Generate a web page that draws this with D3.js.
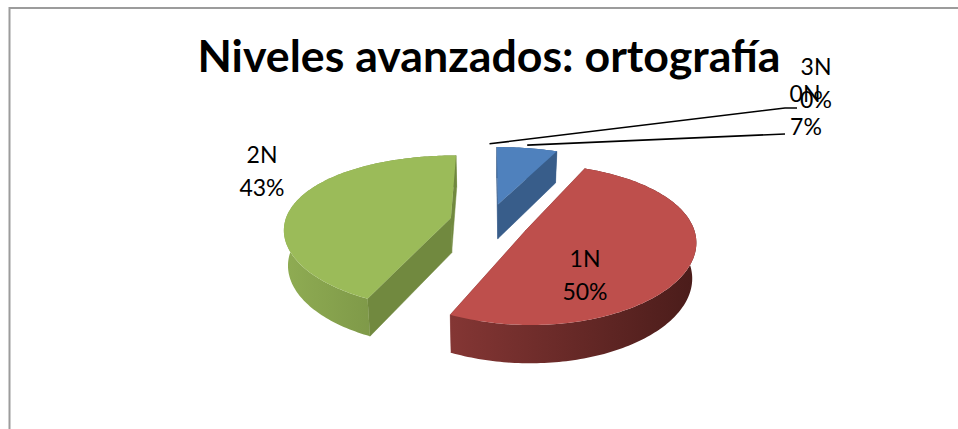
<!DOCTYPE html>
<html><head><meta charset="utf-8">
<script src="https://cdnjs.cloudflare.com/ajax/libs/d3/7.8.5/d3.min.js"></script>
<style>html,body{margin:0;padding:0;background:#fff;overflow:hidden}svg{display:block}text{font-family:Lato,"Open Sans",sans-serif;fill:#000}</style>
</head><body>
<svg id="c" width="958" height="429"></svg>
<script>
const title = "Niveles avanzados: ortografía";
const categories = ["0N", "1N", "2N", "3N"];
const values = [7, 50, 43, 0];
const topColors = ["#4F81BD", "#BE4F4C", "#9BBB59", "#7D60A0"];
const sideColors = ["#385D8A", "#8A3836", "#71893F", "#5A4575"];
const wallStops = [["#385D8A", "#385D8A"], ["#843634", "#4A1C1A"], ["#8FAC53", "#6F873E"], ["#5A4575", "#5A4575"]];
// label placement: [x, baseline of name, x of percent, baseline of percent]
const labelPlace = {"0N": [805, 102, 806, 135], "1N": [585, 267, 585, 300], "2N": [262, 163, 262, 196], "3N": [816, 75, 816, 108]};
const leaderEnd = {"0N": [[785, 134]], "3N": [[785, 108], [797, 108]]};

const svg = d3.select("#c");
// frame
svg.append("path").attr("d", "M9.5,429V8H958").attr("fill", "none").attr("stroke", "#9c9c9c").attr("stroke-width", 2);

const explode = 0.24;
const cx = 489.5, cy = 222;
// perspective mapping of the tilted pie plane
const px = (X, V, low) => cx + X * (166 + 22 * V) * (low ? 0.98 : 1);
const py = (V, low) => cy + 78 * V + 14 * V * V + (low ? 35 + 3 * V : 0);
const project = (X, V, low) => [px(X, V, low), py(V, low)];

const pie = d3.pie().sort(null).value(d => d).startAngle(0).endAngle(2 * Math.PI);
const arcs = pie(values);
const line = d3.line();
const defs = svg.append("defs");

function slicePts(a, low) {
  const mid = (a.startAngle + a.endAngle) / 2;
  const ox = explode * Math.sin(mid), oy = -explode * Math.cos(mid);
  const n = Math.max(2, Math.ceil((a.endAngle - a.startAngle) / 0.02));
  const rim = d3.range(n + 1).map(i => {
    const t = a.startAngle + (a.endAngle - a.startAngle) * i / n;
    return project(ox + Math.sin(t), oy - Math.cos(t), low);
  });
  return {centre: project(ox, oy, low), rim};
}

arcs.forEach((a, i) => {
  if (a.value === 0) return;
  const top = slicePts(a, false), low = slicePts(a, true);
  const xs = top.rim.map(p => p[0]);
  const g = svg.append("g");
  const id = "w" + i;
  const grad = defs.append("linearGradient").attr("id", id).attr("gradientUnits", "userSpaceOnUse")
    .attr("x1", d3.min(xs)).attr("x2", d3.max(xs)).attr("y1", 0).attr("y2", 0);
  grad.append("stop").attr("offset", 0).attr("stop-color", wallStops[i][0]);
  grad.append("stop").attr("offset", 1).attr("stop-color", wallStops[i][1]);
  // radial walls
  [top.rim[0], top.rim[top.rim.length - 1]].forEach((p, k) => {
    const q = k ? low.rim[low.rim.length - 1] : low.rim[0];
    g.append("path").attr("d", line([top.centre, p, q, low.centre]) + "Z").attr("fill", sideColors[i]).attr("stroke", sideColors[i]).attr("stroke-width", .5);
  });
  // outer wall
  g.append("path").attr("d", line(top.rim.concat(low.rim.slice().reverse())) + "Z").attr("fill", `url(#${id})`);
  // top face
  g.append("path").attr("d", line([top.centre].concat(top.rim)) + "Z").attr("fill", topColors[i]);
});

// leader lines
arcs.forEach((a, i) => {
  const ends = leaderEnd[categories[i]];
  if (!ends) return;
  const mid = (a.startAngle + a.endAngle) / 2;
  const ox = explode * Math.sin(mid), oy = -explode * Math.cos(mid);
  const s = project(ox + Math.sin(mid), oy - Math.cos(mid), false);
  s[1] -= 3;
  svg.append("path").attr("d", line([s].concat(ends))).attr("fill", "none").attr("stroke", "#000").attr("stroke-width", 1.6);
});

svg.append("text").attr("x", 489).attr("y", 72).attr("text-anchor", "middle")
  .attr("font-size", 44.7).attr("font-weight", 700).text(title);

const total = d3.sum(values);
categories.forEach((c, i) => {
  const p = labelPlace[c];
  svg.append("text").attr("x", p[0]).attr("y", p[1]).attr("text-anchor", "middle").attr("font-size", 23).text(c);
  svg.append("text").attr("x", p[2]).attr("y", p[3]).attr("text-anchor", "middle").attr("font-size", 23).text(d3.format(".0%")(values[i] / total));
});
</script>
</body></html>
